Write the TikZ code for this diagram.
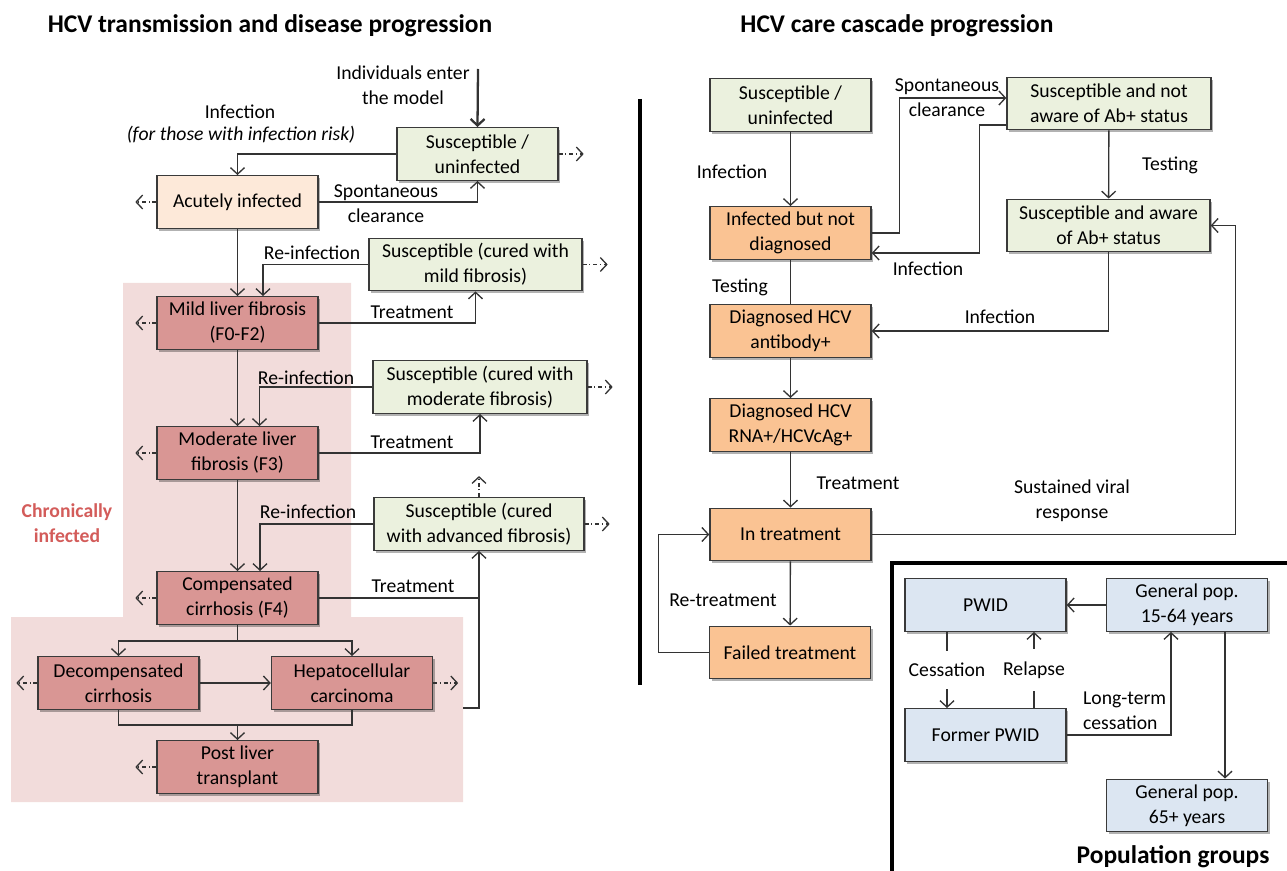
\documentclass[tikz,border=0pt]{standalone}
\usepackage{fontspec}
\setmainfont{Carlito}
\usepackage{tikz}
\usetikzlibrary{arrows.meta,calc,shadows}
\definecolor{susfill}{HTML}{EBF1DE}
\definecolor{acufill}{HTML}{FDE9D9}
\definecolor{chrfill}{HTML}{D99694}
\definecolor{zonefill}{HTML}{F2DCDB}
\definecolor{casfill}{HTML}{FAC393}
\definecolor{popfill}{HTML}{DCE6F2}
\definecolor{boxedge}{HTML}{3A3A3A}
\definecolor{lineink}{HTML}{333333}
\definecolor{alertred}{HTML}{D35C5A}
\newcommand{\hcvtext}{\fontsize{11.2}{14.2}\selectfont}
\newcommand{\hcvhead}{\fontsize{14.5}{17}\selectfont\bfseries}
\tikzset{box/.style={draw=boxedge,line width=.8pt,align=center,minimum height=1.05cm,minimum width=3.22cm,inner sep=1pt,font=\hcvtext,drop shadow={shadow xshift=1.3pt,shadow yshift=-1.3pt,opacity=.3,fill=black}}, susbox/.style={box,fill=susfill},acubox/.style={box,fill=acufill},chrbox/.style={box,fill=chrfill},casbox/.style={box,fill=casfill},popbox/.style={box,fill=popfill}, flow/.style={draw=lineink,line width=.75pt,-{Straight Barb[length=1.3mm,width=2.8mm]}},link/.style={draw=lineink,line width=.75pt}, exitarrow/.style={draw=lineink,line width=.75pt,dash pattern=on 2.2pt off 1.6pt on .6pt off 1.6pt,-{Straight Barb[length=1.3mm,width=2.8mm]}}, lbl/.style={font=\hcvtext,inner sep=1pt,align=center},heading/.style={font=\hcvhead},heavyline/.style={line width=2.4pt,black}}
\begin{document}
\begin{tikzpicture}[x=0.02cm,y=-0.02cm]
\useasboundingbox (0,0) rectangle (1287,871);
\fill[zonefill] (123,283) -- (351,283) -- (351,617) -- (463,617) -- (463,802) -- (11,802) -- (11,617) -- (123,617) -- cycle;
\node[heading] (lefttitle) at (270,26) {HCV transmission and disease progression};
\node[heading] (righttitle) at (897,26) {HCV care cascade progression};
\node[susbox] (s0) at (477.5,154) {Susceptible /\\uninfected};
\node[acubox] (acute) at (237.5,202) {Acutely infected};
\node[susbox,minimum width=4.26cm] (s1) at (475.5,264.5) {Susceptible (cured with\\mild fibrosis)};
\node[chrbox] (mild) at (237.5,323) {Mild liver fibrosis\\(F0-F2)};
\node[susbox,minimum width=4.28cm] (s2) at (480,387) {Susceptible (cured with\\moderate fibrosis)};
\node[chrbox] (mod) at (237.5,453) {Moderate liver\\fibrosis (F3)};
\node[susbox,minimum width=4.2cm] (s3) at (479,524) {Susceptible (cured\\with advanced fibrosis)};
\node[chrbox] (comp) at (237.5,598) {Compensated\\cirrhosis (F4)};
\node[chrbox] (decomp) at (118.5,683) {Decompensated\\cirrhosis};
\node[chrbox] (hcc) at (352,683) {Hepatocellular\\carcinoma};
\node[chrbox] (post) at (237.5,767) {Post liver\\transplant};
\node[lbl,font=\hcvtext\bfseries,text=alertred] (chronic) at (67,523) {Chronically\\infected};
\node[lbl] (entrytxt) at (403,85) {Individuals enter\\the model};
\coordinate (entry) at (478,69);
\draw[flow,line width=1.3pt] (entry) -- (s0.north);
\node[lbl] (inflbl) at (240,112) {Infection};
\node[lbl,font=\hcvtext\itshape] (risklbl) at (241,135) {(for those with infection risk)};
\node[lbl] (clearlbl) at (386,204) {Spontaneous\\clearance};
\draw[flow] (s0.west) -| (acute.north);
\draw[flow] (acute.east) -| (s0.south);
\draw[flow] (acute) -- (mild);
\draw[flow] (s1.west) -| ($(mild.north)+(25.5,0)$);
\draw[flow] (mild.east) -| (s1.south);
\draw[flow] (mild) -- (mod);
\draw[flow] (s2.west) -| ($(mod.north)+(22,0)$);
\draw[flow] (mod.east) -| (s2.south);
\draw[flow] (mod) -- (comp);
\draw[flow] (s3.west) -| ($(comp.north)+(22.5,0)$);
\draw[flow] (comp.east) -| (s3.south);
\coordinate (hccout) at (463,708);
\draw[link] (hccout) -| (comp.east -| s3.south);
\node[lbl] (reinf1) at (312,253) {Re-infection};
\node[lbl] (reinf2) at (306,378) {Re-infection};
\node[lbl] (reinf3) at (308,512) {Re-infection};
\node[lbl] (treat1) at (412,312) {Treatment};
\node[lbl] (treat2) at (412,442) {Treatment};
\node[lbl] (treat3) at (413,586) {Treatment};
\coordinate (split) at (237.5,641);
\coordinate (merge) at (237.5,725);
\draw[link] (comp.south) -- (split);
\draw[flow] (split) -| (decomp.north);
\draw[flow] (split) -| (hcc.north);
\draw[flow] (decomp) -- (hcc);
\draw[link] (decomp.south) |- (merge);
\draw[link] (hcc.south) |- (merge);
\draw[flow] (merge) -- (post.north);
\foreach \n in {acute,mild,mod,comp,decomp,post}{
  \coordinate (\n-out) at ($(\n.west)+(-21,0)$);
  \draw[exitarrow] (\n.west) -- (\n-out);}
\foreach \n in {s0,s1,s2,s3,hcc}{
  \coordinate (\n-out) at ($(\n.east)+(25,0)$);
  \draw[exitarrow] (\n.east) -- (\n-out);}
\coordinate (s3-up) at ($(s3.north)+(0,-21)$);
\draw[exitarrow] (s3.north) -- (s3-up);
\draw[heavyline] (640,99) -- (640,685);
\node[susbox] (rsus) at (790.5,105) {Susceptible /\\uninfected};
\node[susbox,minimum width=4.08cm] (rnot) at (1109,103.5) {Susceptible and not\\aware of Ab+ status};
\node[casbox] (rund) at (790.5,233) {Infected but not\\diagnosed};
\node[susbox,minimum width=4.06cm] (raware) at (1108.5,225.5) {Susceptible and aware\\of Ab+ status};
\node[casbox] (rab) at (790.5,331) {Diagnosed HCV\\antibody+};
\node[casbox] (rrna) at (790.5,425) {Diagnosed HCV\\RNA+/HCVcAg+};
\node[casbox] (rtreat) at (790.5,534.5) {In treatment};
\node[casbox] (rfail) at (790,652.5) {Failed treatment};
\draw[flow] (rsus) -- (rund);
\draw[flow] (rund.east) -- ++(28,0) |- ($(rnot.west)+(0,-5.5)$);
\draw[flow] ($(rnot.west)+(0,21.5)$) -- ++(-27,0) |- ($(rund.east)+(0,20)$);
\draw[flow] (rnot) -- (raware);
\draw[link] (rund) -- (rab);
\draw[flow] (raware.south) |- (rab.east);
\draw[flow] (rab) -- (rrna);
\draw[flow] (rrna) -- (rtreat);
\draw[flow] (rtreat.east) -| ($(raware.east)+(25,0)$) -- (raware.east);
\draw[flow] (rtreat) -- (rfail);
\draw[flow] (rfail.west) -- ++(-50,0) |- (rtreat.west);
\node[lbl] (rinf1) at (732,172) {Infection};
\node[lbl] (rclear) at (947,97.5) {Spontaneous\\clearance};
\node[lbl] (rinf2) at (928,269) {Infection};
\node[lbl] (rtest1) at (1170,165) {Testing};
\node[lbl] (rtest2) at (740,287) {Testing};
\node[lbl] (rinf3) at (1000,317) {Infection};
\node[lbl] (rtrt) at (858,483) {Treatment};
\node[lbl] (rsvr) at (1072,501) {Sustained viral\\response};
\node[lbl] (rretrt) at (723,600) {Re-treatment};
\draw[heavyline] (892,871) |- (1287,563);
\node[popbox] (pwid) at (985.5,605) {PWID};
\node[popbox] (genpop) at (1187,605) {General pop.\\15-64 years};
\node[popbox] (former) at (985.5,735) {Former PWID};
\node[popbox] (older) at (1187,805.5) {General pop.\\65+ years};
\draw[flow] (genpop) -- (pwid);
\draw[flow] ($(pwid.south)+(-38.5,0)$) -- node[lbl,fill=white,inner ysep=7pt] (cesslbl) {Cessation} ($(former.north)+(-38.5,0)$);
\draw[flow] ($(former.north)+(48.5,0)$) -- node[lbl,fill=white,inner ysep=7pt] (relapselbl) {Relapse} ($(pwid.south)+(48.5,0)$);
\draw[flow] (former.east) -| ($(genpop.south)+(-16,0)$);
\node[lbl,align=left,anchor=west] (longlbl) at (1081,711) {Long-term\\cessation};
\draw[flow] ($(genpop.south)+(38,0)$) -- ($(older.north)+(38,0)$);
\node[heading] (poplbl) at (1173,857) {Population groups};
\end{tikzpicture}
\end{document}
